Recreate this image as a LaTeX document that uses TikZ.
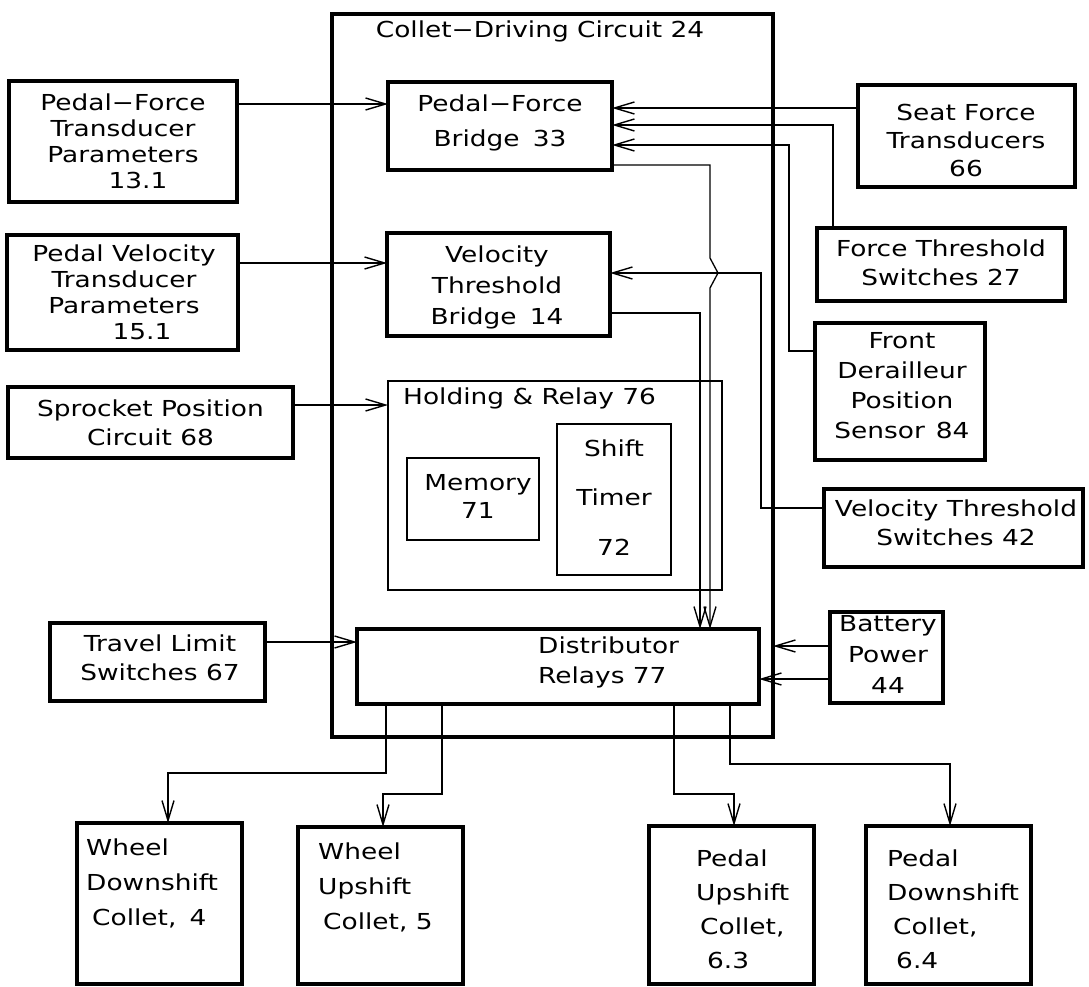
\documentclass[tikz,border=0pt]{standalone}
\usepackage{fontspec}
\setmainfont{DejaVu Sans}[FakeStretch=1.2]
\usetikzlibrary{arrows.meta}
\newcommand\mkbox[6]{\node[draw, line width=#6, inner sep=0pt, outer sep=0pt,
  minimum width=#4-#2, minimum height=#5-#3, anchor=north west] (#1) at (#2,#3) {};}
\begin{document}
\begin{tikzpicture}[x=1pt,y=-1pt,
  txt/.style={inner sep=0pt, align=center, font=\fontsize{22}{#1}\selectfont},
  txt/.default=26,
  ltxt/.style={inner sep=0pt, align=left, anchor=west, font=\fontsize{22}{#1}\selectfont},
  ltxt/.default=26,
  arr/.style={line width=1.3pt, -{Straight Barb[length=20pt,width=12pt,line width=1.4pt]}},
  conn/.style={line width=1.3pt}]
\useasboundingbox (0,0) rectangle (1089,987);
% boxes
\mkbox{cdc}{332}{14}{773}{737}{4pt}
\mkbox{pftp}{9}{81}{237}{202}{3.3pt}
\mkbox{pvtp}{7}{235}{238}{350}{3.3pt}
\mkbox{spc}{8}{387}{293}{458}{3.3pt}
\mkbox{tls}{50}{623}{265}{701}{3.3pt}
\mkbox{pfb}{388}{82}{612}{170}{3.3pt}
\mkbox{vtb}{387}{233}{610}{336}{3.3pt}
\mkbox{hold}{388}{381}{722}{590}{2.3pt}
\mkbox{mem}{407}{458}{539}{540}{2.8pt}
\mkbox{st}{557}{424}{671}{575}{2.8pt}
\mkbox{dist}{357}{629}{759}{704}{3.3pt}
\mkbox{sft}{858}{85}{1075}{187}{3.3pt}
\mkbox{fts}{817}{228}{1065}{301}{3.3pt}
\mkbox{fdp}{815}{323}{985}{460}{3.3pt}
\mkbox{vts}{824}{489}{1083}{567}{3.3pt}
\mkbox{bat}{830}{612}{943}{703}{3.3pt}
\mkbox{wd}{77}{823}{242}{984}{3.3pt}
\mkbox{wu}{298}{827}{463}{984}{3.3pt}
\mkbox{pu}{649}{826}{814}{984}{3.3pt}
\mkbox{pd}{866}{826}{1031}{984}{3.3pt}
% texts
\node[txt] (cdc-t) at (540,31) {Collet−Driving Circuit 24};
\node[txt] (pftp-t) at (123,141.5) {Pedal−Force\\Transducer\\Parameters\\\hspace*{30pt}13.1};
\node[txt] (pvtp-t) at (124,292.5) {Pedal Velocity\\Transducer\\Parameters\\\hspace*{36pt}15.1};
\node[txt=29] (spc-t) at (150.5,422.5) {Sprocket Position\\Circuit 68};
\node[txt=29] (tls-t) at (160,657.5) {Travel Limit\\Switches 67};
\node[txt=35] (pfb-t) at (500,123) {Pedal−Force\\Bridge\hspace{0.6em}33};
\node[txt=31] (vtb-t) at (497,287) {Velocity\\Threshold\\Bridge\hspace{0.6em}14};
\node[ltxt] (hold-t) at (403,398) {Holding \& Relay 76};
\node[txt=28] (mem-t) at (478,496) {Memory\\71};
\node[txt=49.5] (st-t) at (614,497.5) {Shift\\Timer\\72};
\node[ltxt=30] (dist-t) at (538,662) {Distributor\\Relays 77};
\node[txt=28] (sft-t) at (966,140) {Seat Force\\Transducers\\66};
\node[txt=29] (fts-t) at (941,262.5) {Force Threshold\\Switches 27};
\node[txt=30] (fdp-t) at (902,385.5) {Front\\Derailleur\\Position\\Sensor\hspace{0.5em}84};
\node[txt=29] (vts-t) at (956,522.5) {Velocity Threshold\\Switches 42};
\node[txt=31] (bat-t) at (888,654) {Battery\\Power\\44};
\node[ltxt=35] (wd-t) at (86,883) {Wheel\\Downshift\\\hspace*{6pt}Collet,\hspace{0.6em}4};
\node[ltxt=35] (wu-t) at (318,887.5) {Wheel\\Upshift\\\hspace*{5pt}Collet, 5};
\node[ltxt=34] (pu-t) at (696,909) {Pedal\\Upshift\\\hspace*{4pt}Collet,\\\hspace*{11pt}6.3};
\node[ltxt=34] (pd-t) at (887,909) {Pedal\\Downshift\\\hspace*{6pt}Collet,\\\hspace*{9pt}6.4};
% connectors
\draw[arr] (pftp.east |- 0,104) -- (pfb.west |- 0,104);
\draw[arr] (pvtp.east |- 0,263) -- (vtb.west |- 0,263);
\draw[arr] (spc.east |- 0,405) -- (hold.west |- 0,405);
\draw[arr] (tls.east |- 0,642) -- (dist.west |- 0,642);
\draw[arr] (sft.west |- 0,108) -- (pfb.east |- 0,108);
\draw[arr] (fts.north -| 833,0) |- (pfb.east |- 0,125);
\draw[arr] (fdp.west |- 0,351) -| (789,145) -- (pfb.east |- 0,145);
\draw[arr] (pfb.east |- 0,165) -| (710,258) -- (718,273) -- (710,288) -- (dist.north -| 710,0);
\draw[arr] (vts.west |- 0,508) -| (761,273) -- (vtb.east |- 0,273);
\draw[arr] (vtb.east |- 0,313) -| (dist.north -| 700,0);
\draw[arr] (bat.west |- 0,646) -- (cdc.east |- 0,646);
\draw[arr] (bat.west |- 0,679) -- (dist.east |- 0,679);
\draw[arr] (dist.south -| 386,0) |- (168,773) -- (wd.north -| 168,0);
\draw[arr] (dist.south -| 442,0) |- (383,794) -- (wu.north -| 383,0);
\draw[arr] (dist.south -| 674,0) |- (734,794) -- (pu.north -| 734,0);
\draw[arr] (dist.south -| 730,0) |- (950,764) -- (pd.north -| 950,0);
\end{tikzpicture}
\end{document}
